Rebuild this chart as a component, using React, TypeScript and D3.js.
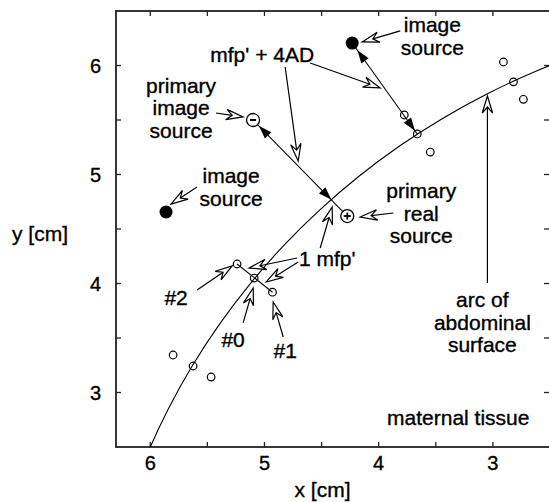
import React from 'react';
import * as d3 from 'd3';

// ---- axes ----
const X_TICKS = [6, 5.5, 5, 4.5, 4, 3.5, 3];
const X_TICK_LABELS = [6, 5, 4, 3];
const Y_TICKS = [3, 3.5, 4, 4.5, 5, 5.5, 6];
const Y_TICK_LABELS = [3, 4, 5, 6];

// ---- geometry (cm) ----
const ARC_RADIUS = 6.5; // abdominal surface arc, centred at origin
const ARC_ANGLES_DEG = [18, 22, 26, 30, 34, 38, 42, 46, 50, 54, 58, 62, 66, 70, 72];

const DETECTORS: [number, number][] = [
  [2.908, 6.032], [2.82, 5.85], [2.733, 5.69],
  [3.776, 5.546], [3.662, 5.372], [3.548, 5.206],
  [5.24, 4.179], [5.09, 4.05], [4.93, 3.92],
  [5.8, 3.344], [5.625, 3.243], [5.467, 3.142],
];
const IMAGE_SOURCES: [number, number][] = [[4.232, 6.206], [5.862, 4.656]];
const PRIMARY_IMAGE: [number, number] = [5.1, 5.5];
const PRIMARY_REAL: [number, number] = [4.275, 4.619];
const ARC_CROSSING: [number, number] = [4.415, 4.77];
const IMAGE_TARGET: [number, number] = [3.662, 5.372];
const PAIR_LINE: [number, number][] = [[5.24, 4.179], [4.93, 3.92]];

// hollow annotation arrows: [start, tip]
const POINTER_ARROWS: [[number, number], [number, number]][] = [
  [[3.811, 6.317], [4.144, 6.216]],
  [[4.819, 5.986], [4.705, 5.124]],
  [[4.6, 6.023], [3.986, 5.794]],
  [[5.424, 5.564], [5.187, 5.528]],
  [[5.59, 4.885], [5.818, 4.729]],
  [[3.872, 4.647], [4.162, 4.61]],
  [[4.512, 4.326], [4.407, 4.702]],
  [[4.714, 4.234], [5.134, 4.142]],
  [[4.705, 4.197], [4.985, 4.014]],
  [[5.59, 3.94], [5.283, 4.161]],
  [[5.187, 3.638], [5.099, 3.959]],
  [[4.836, 3.509], [4.924, 3.83]],
  [[3.048, 4.005], [3.048, 5.72]],
];

// labels: [x, y (first baseline), lines]
const LABELS: [number, number, string[]][] = [
  [3.53, 6.307, ['image', 'source']],
  [5.02, 6.032, ["mfp' + 4AD"]],
  [5.73, 5.748, ['primary', 'image', 'source']],
  [5.292, 4.922, ['image', 'source']],
  [3.627, 4.784, ['primary', 'real', 'source']],
  [4.451, 4.161, ["1 mfp'"]],
  [5.774, 3.803, ['#2']],
  [5.275, 3.417, ['#0']],
  [4.819, 3.317, ['#1']],
  [3.092, 3.784, ['arc of', 'abdominal', 'surface']],
  [3.303, 2.702, ['maternal tissue']],
];

const W = 549;
const H = 502;
const PL = 116, PR = 550, PT = 11, PB = 447;
const FONT = "'Liberation Sans', Arial, Helvetica, sans-serif";
const LINE_GAP = 22.5;

export default function App() {
  const x = d3.scaleLinear().domain([6.3, 2.5]).range([PL, PR]);
  const y = d3.scaleLinear().domain([2.5, 6.5]).range([PB, PT]);
  const P = (p: [number, number]) => [x(p[0]), y(p[1])] as [number, number];

  const arcPts = ARC_ANGLES_DEG.map((a) => {
    const r = (a * Math.PI) / 180;
    return [ARC_RADIUS * Math.cos(r), ARC_RADIUS * Math.sin(r)] as [number, number];
  });
  const arcPath = d3
    .line<[number, number]>()
    .x((d) => x(d[0]))
    .y((d) => y(d[1]))
    .curve(d3.curveCatmullRom)(arcPts) as string;

  const unit = (a: [number, number], b: [number, number]) => {
    const dx = b[0] - a[0], dy = b[1] - a[1];
    const l = Math.hypot(dx, dy);
    return [dx / l, dy / l] as [number, number];
  };

  const solidHead = (from: [number, number], tip: [number, number], key: string) => {
    const u = unit(from, tip);
    const n = [-u[1], u[0]];
    const L = 13, Wd = 4.5;
    const b = [tip[0] - L * u[0], tip[1] - L * u[1]];
    const pts = [tip, [b[0] + Wd * n[0], b[1] + Wd * n[1]], [b[0] - Wd * n[0], b[1] - Wd * n[1]]];
    return <polygon key={key} points={pts.map((p) => p.join(',')).join(' ')} fill="#000" />;
  };

  const hollowArrow = (s: [number, number], t: [number, number], key: string) => {
    const a = P(s), tip = P(t);
    const u = unit(a, tip);
    const n = [-u[1], u[0]];
    const L = 17, Wd = 5.2, N = 11;
    const back = [tip[0] - L * u[0], tip[1] - L * u[1]];
    const notch = [tip[0] - N * u[0], tip[1] - N * u[1]];
    const pts = [
      tip,
      [back[0] + Wd * n[0], back[1] + Wd * n[1]],
      notch,
      [back[0] - Wd * n[0], back[1] - Wd * n[1]],
    ];
    return (
      <g key={key}>
        <line x1={a[0]} y1={a[1]} x2={notch[0]} y2={notch[1]} stroke="#000" strokeWidth={1.2} />
        <polygon points={pts.map((p) => p.join(',')).join(' ')} fill="#fff" stroke="#000" strokeWidth={1.2} strokeLinejoin="miter" />
      </g>
    );
  };

  const offset = (c: [number, number], toward: [number, number], d: number) => {
    const u = unit(c, toward);
    return [c[0] + u[0] * d, c[1] + u[1] * d] as [number, number];
  };

  const pImg = P(PRIMARY_IMAGE), pReal = P(PRIMARY_REAL), pCross = P(ARC_CROSSING);
  const iSrc = P(IMAGE_SOURCES[0]), iTgt = P(IMAGE_TARGET);
  const tick = 5;
  const textStroke = { stroke: '#000', strokeWidth: 0.35 };

  return (
    <div style={{ position: 'absolute', left: 0, top: 0 }}>
      <svg width={W} height={H} style={{ display: 'block', background: '#fff' }} fontFamily={FONT}>
        <defs>
          <clipPath id="plot">
            <rect x={PL} y={PT} width={PR - PL} height={PB - PT} />
          </clipPath>
        </defs>

        {/* frame */}
        <rect x={PL} y={PT} width={PR - PL} height={PB - PT} fill="none" stroke="#222" strokeWidth={1.8} />
        {X_TICKS.map((t) => (
          <g key={'xt' + t}>
            <line x1={x(t)} x2={x(t)} y1={PB} y2={PB - tick} stroke="#222" strokeWidth={1.3} />
            <line x1={x(t)} x2={x(t)} y1={PT} y2={PT + tick} stroke="#222" strokeWidth={1.3} />
          </g>
        ))}
        {Y_TICKS.map((t) => (
          <g key={'yt' + t}>
            <line x1={PL} x2={PL + tick} y1={y(t)} y2={y(t)} stroke="#222" strokeWidth={1.3} />
            <line x1={PR - 1} x2={PR - 1 - tick} y1={y(t)} y2={y(t)} stroke="#222" strokeWidth={1.3} />
          </g>
        ))}
        {X_TICK_LABELS.map((t) => (
          <text key={'xl' + t} x={x(t)} y={470} fontSize={20} textAnchor="middle" fill="#000" {...textStroke}>
            {t}
          </text>
        ))}
        {Y_TICK_LABELS.map((t) => (
          <text key={'yl' + t} x={101} y={y(t) + 7} fontSize={20} textAnchor="end" fill="#000" {...textStroke}>
            {t}
          </text>
        ))}
        <text x={(PL + 549) / 2 - 10} y={497} fontSize={21} textAnchor="middle" fill="#000" {...textStroke}>x [cm]</text>
        <text x={40} y={241} fontSize={21} textAnchor="middle" fill="#000" {...textStroke}>y [cm]</text>

        <g clipPath="url(#plot)">
          <path d={arcPath} fill="none" stroke="#000" strokeWidth={1.1} />

          <line x1={x(PAIR_LINE[0][0])} y1={y(PAIR_LINE[0][1])} x2={x(PAIR_LINE[1][0])} y2={y(PAIR_LINE[1][1])} stroke="#000" strokeWidth={1.1} />

          <line x1={pImg[0]} y1={pImg[1]} x2={pReal[0]} y2={pReal[1]} stroke="#000" strokeWidth={1.1} />
          {solidHead(pCross, offset(pImg, pCross, 8.5), 'h1')}
          {solidHead(pImg, pCross, 'h2')}

          <line x1={iSrc[0]} y1={iSrc[1]} x2={iTgt[0]} y2={iTgt[1]} stroke="#000" strokeWidth={1.1} />
          {solidHead(iTgt, offset(iSrc, iTgt, 9), 'h3')}
          {solidHead(iSrc, offset(iTgt, iSrc, 4), 'h4')}

          {DETECTORS.map((d, i) => (
            <circle key={'d' + i} cx={x(d[0])} cy={y(d[1])} r={3.8} fill="none" stroke="#000" strokeWidth={1.2} />
          ))}
          {IMAGE_SOURCES.map((d, i) => (
            <circle key={'s' + i} cx={x(d[0])} cy={y(d[1])} r={6.5} fill="#000" />
          ))}

          <circle cx={pImg[0]} cy={pImg[1]} r={6.5} fill="#fff" stroke="#000" strokeWidth={1.3} />
          <line x1={pImg[0] - 3} x2={pImg[0] + 3} y1={pImg[1]} y2={pImg[1]} stroke="#000" strokeWidth={2} />
          <circle cx={pReal[0]} cy={pReal[1]} r={6.5} fill="#fff" stroke="#000" strokeWidth={1.3} />
          <line x1={pReal[0] - 3.5} x2={pReal[0] + 3.5} y1={pReal[1]} y2={pReal[1]} stroke="#000" strokeWidth={1.8} />
          <line x1={pReal[0]} x2={pReal[0]} y1={pReal[1] - 3.5} y2={pReal[1] + 3.5} stroke="#000" strokeWidth={1.8} />

          {POINTER_ARROWS.map((a, i) => hollowArrow(a[0], a[1], 'a' + i))}
        </g>

        {LABELS.map(([lx, ly, lines], i) =>
          lines.map((s, j) => (
            <text
              key={'lab' + i + '-' + j}
              x={x(lx)}
              y={y(ly) + j * LINE_GAP}
              fontSize={21}
              textAnchor="middle"
              fill="#000"
              {...textStroke}
            >
              {s}
            </text>
          ))
        )}
      </svg>
    </div>
  );
}
